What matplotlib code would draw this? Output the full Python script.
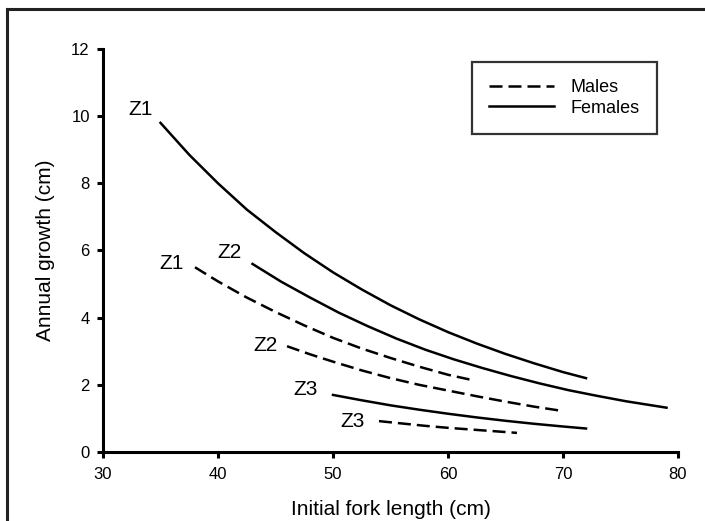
import matplotlib
matplotlib.use("Agg")
from matplotlib import pyplot as plt
from matplotlib.lines import Line2D

plt.rcParams['font.family'] = ['Liberation Sans', 'DejaVu Sans']

# growth curves (fork length cm, annual growth cm)
fz1_x = [35, 37.5, 40, 42.5, 45, 47.5, 50, 52.5, 55, 57.5, 60, 62.5, 65, 67.5, 70, 72]
fz1_y = [9.8, 8.85, 8.0, 7.22, 6.55, 5.92, 5.35, 4.84, 4.37, 3.95, 3.57, 3.23, 2.92, 2.64, 2.38, 2.2]
fz2_x = [43, 45.5, 48, 50.5, 53, 55.5, 58, 60.5, 63, 65.5, 68, 70.5, 73, 75.5, 79]
fz2_y = [5.6, 5.07, 4.6, 4.15, 3.75, 3.38, 3.05, 2.76, 2.5, 2.26, 2.04, 1.84, 1.67, 1.51, 1.32]
fz3_x = [50, 52.5, 55, 57.5, 60, 62.5, 65, 67.5, 70, 72]
fz3_y = [1.7, 1.54, 1.39, 1.26, 1.14, 1.03, 0.93, 0.84, 0.76, 0.7]

mz1_x = [38, 40, 42.5, 45, 47.5, 50, 52.5, 55, 57.5, 60, 62]
mz1_y = [5.5, 5.08, 4.6, 4.17, 3.77, 3.4, 3.08, 2.8, 2.54, 2.3, 2.15]
mz2_x = [46, 48, 50, 52.5, 55, 57.5, 60, 62.5, 65, 67.5, 70]
mz2_y = [3.15, 2.91, 2.69, 2.43, 2.2, 2.0, 1.83, 1.66, 1.5, 1.35, 1.22]
mz3_x = [54, 56, 58, 60, 62, 64, 66]
mz3_y = [0.92, 0.85, 0.78, 0.72, 0.67, 0.62, 0.57]

# zone labels next to each curve
labels = ["Z1", "Z2", "Z3", "Z1", "Z2", "Z3"]
label_x = [33.3, 41.0, 47.6, 36.0, 44.1, 51.7]
label_y = [10.2, 5.95, 1.85, 5.62, 3.18, 0.9]

fig = plt.figure(figsize=(7.05, 5.21), dpi=100)
ax = fig.add_axes([0.1461, 0.1324, 0.8156, 0.7736])

lw = 1.8
dash = (5.2, 2.4)
ax.plot(mz1_x, mz1_y, c='black', lw=lw, dashes=dash, label='Males')
ax.plot(fz1_x, fz1_y, c='black', lw=lw, label='Females')
ax.plot(fz2_x, fz2_y, c='black', lw=lw)
ax.plot(fz3_x, fz3_y, c='black', lw=lw)
ax.plot(mz2_x, mz2_y, c='black', lw=lw, dashes=dash)
ax.plot(mz3_x, mz3_y, c='black', lw=lw, dashes=dash)

for t, x, y in zip(labels, label_x, label_y):
    ax.text(x, y, t, fontsize=15, ha='center', va='center')

ax.set_xlim(30, 80)
ax.set_ylim(0, 12)
ax.set_xticks(range(30, 81, 10))
ax.set_yticks(range(0, 13, 2))
ax.spines['top'].set_visible(False)
ax.spines['right'].set_visible(False)
ax.spines['left'].set_linewidth(2.2)
ax.spines['bottom'].set_linewidth(2.2)
ax.tick_params(axis='both', direction='out', length=4.5, width=2.2, labelsize=12)
ax.tick_params(axis='x', pad=6)
ax.tick_params(axis='y', pad=5)

ax.set_xlabel("Initial fork length (cm)", fontsize=15, labelpad=13)
ax.set_ylabel("Annual growth (cm)", fontsize=15, labelpad=12)

leg = ax.legend(loc='upper right', bbox_to_anchor=(0.9635, 0.9677), borderaxespad=0,
                fontsize=13, frameon=True, fancybox=False, handlelength=3.6,
                handletextpad=0.9, labelspacing=0.2, borderpad=0.95)
leg.get_frame().set_edgecolor('black')
leg.get_frame().set_linewidth(1.6)

# frame lines along the top and left of the figure
fig.add_artist(Line2D([0.01, 0.01], [0.0, 0.983], transform=fig.transFigure, c='#222222', lw=2.2))
fig.add_artist(Line2D([0.01, 1.0], [0.983, 0.983], transform=fig.transFigure, c='#222222', lw=2.2))

plt.savefig("out.png", dpi=100)
